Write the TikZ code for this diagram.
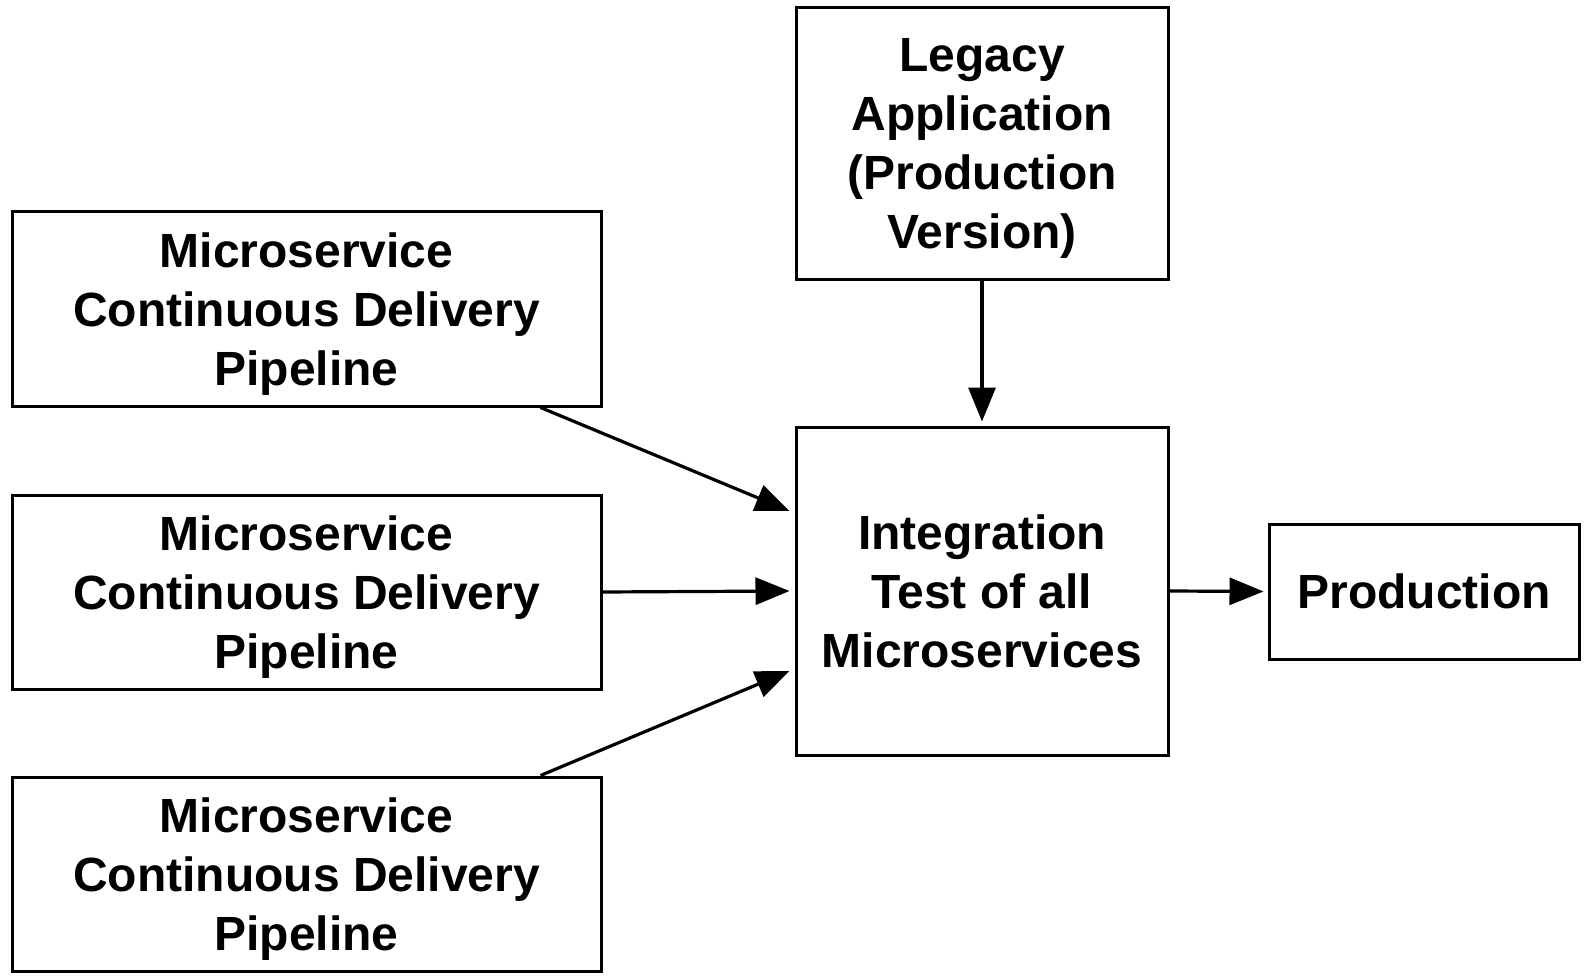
\documentclass[tikz,border=0pt]{standalone}
\usepackage{fontspec}
\setmainfont{Liberation Sans}
\usetikzlibrary{arrows.meta,calc}
\begin{document}
\begin{tikzpicture}[x=1pt,y=1pt,
  box/.style={draw=black,line width=3pt,inner sep=0pt,align=center,text depth=0pt,
    font=\fontsize{48}{59}\selectfont\bfseries},
  conn/.style={line width=3.2pt,-{Triangle[length=34pt,width=27pt]}}]
\useasboundingbox (0,0) rectangle (1586,-976);
\node[box,minimum width=589pt,minimum height=194pt] (b1) at (306.5,-309) {Microservice\\Continuous Delivery\\Pipeline};
\node[box,minimum width=589pt,minimum height=194pt] (b2) at (306.5,-592) {Microservice\\Continuous Delivery\\Pipeline};
\node[box,minimum width=589pt,minimum height=194pt] (b3) at (306.5,-874) {Microservice\\Continuous Delivery\\Pipeline};
\node[box,minimum width=372pt,minimum height=271pt] (leg) at (982,-143.5) {Legacy\\Application\\(Production\\Version)};
\node[box,minimum width=372pt,minimum height=328pt] (int) at (982,-591) {Integration\\Test of all\\Microservices};
\node[box,minimum width=310pt,minimum height=135pt] (prod) at (1424,-591.5) {Production};
\draw[conn] ([xshift=-62pt]b1.south east) -- ([xshift=-5pt,yshift=80pt]int.west);
\draw[conn] (b2.east) -- ([xshift=-5pt]int.west);
\draw[conn] ([xshift=-62pt]b3.north east) -- ([xshift=-5pt,yshift=-80pt]int.west);
\draw[conn,shorten >=4pt] (leg.south) -- (int.north);
\draw[conn,shorten >=4pt] (int.east) -- (prod.west);
\end{tikzpicture}
\end{document}
